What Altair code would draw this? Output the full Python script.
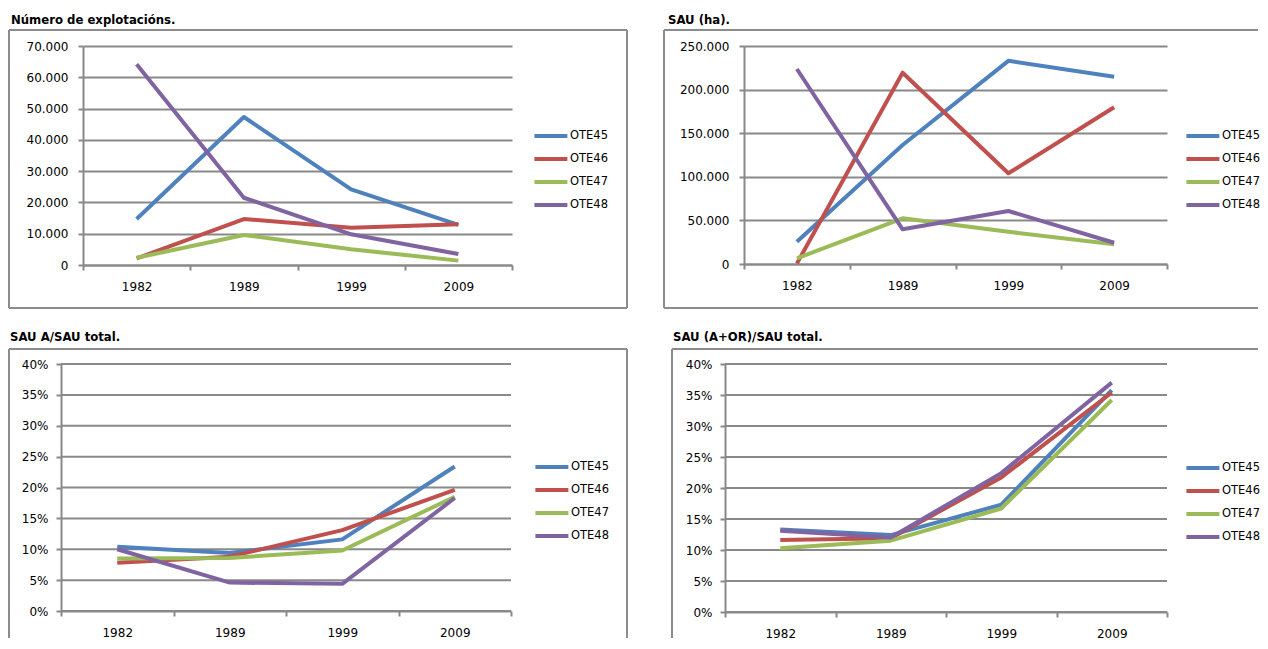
import altair as alt
import pandas as pd

years = ["1982", "1989", "1999", "2009"]
series = ["OTE45", "OTE46", "OTE47", "OTE48"]
colors = ["#4F81BD", "#C0504D", "#9BBB59", "#8064A2"]

# Panel 1: Número de explotacións.
p1_title = "Número de explotacións."
p1_ote45 = [14700, 47300, 24200, 12800]
p1_ote46 = [2100, 14700, 11900, 13000]
p1_ote47 = [2300, 9600, 5000, 1400]
p1_ote48 = [64200, 21500, 9800, 3500]
p1_ticks = [0, 10000, 20000, 30000, 40000, 50000, 60000, 70000]

# Panel 2: SAU (ha).
p2_title = "SAU (ha)."
p2_ote45 = [25600, 136500, 233000, 214800]
p2_ote46 = [500, 219400, 104000, 179700]
p2_ote47 = [6500, 52400, 37000, 22600]
p2_ote48 = [223600, 39800, 60800, 24400]
p2_ticks = [0, 50000, 100000, 150000, 200000, 250000]

# Panel 3: SAU A/SAU total.
p3_title = "SAU A/SAU total."
p3_ote45 = [0.104, 0.094, 0.116, 0.234]
p3_ote46 = [0.078, 0.088, 0.131, 0.196]
p3_ote47 = [0.085, 0.086, 0.098, 0.185]
p3_ote48 = [0.100, 0.046, 0.044, 0.183]

# Panel 4: SAU (A+OR)/SAU total.
p4_title = "SAU (A+OR)/SAU total."
p4_ote45 = [0.133, 0.124, 0.173, 0.358]
p4_ote46 = [0.116, 0.119, 0.217, 0.354]
p4_ote47 = [0.103, 0.115, 0.167, 0.342]
p4_ote48 = [0.131, 0.120, 0.224, 0.370]

pct_ticks = [0, 0.05, 0.10, 0.15, 0.20, 0.25, 0.30, 0.35, 0.40]

GRID = "#898989"
FRAME = "#8c8c8c"
FONT = "DejaVu Sans"


def long_df(vals):
    rows = []
    for s, arr in zip(series, vals):
        for y, v in zip(years, arr):
            rows.append({"year": y, "serie": s, "value": v})
    return pd.DataFrame(rows)


def panel(title, vals, ticks, pct, w, h, frame, title_xy, legend_xy, ylab_pad,
          ext_x=None, shift=0):
    df = long_df(vals)
    manual_grid = shift != 0
    common = dict(values=ticks, title=None, labelPadding=ylab_pad, grid=not manual_grid)
    if shift != 0:
        common["offset"] = -shift
    if pct:
        yaxis = alt.Axis(format=".0%", **common)
    else:
        yaxis = alt.Axis(labelExpr="replace(format(datum.value, ','), ',', '.')", **common)
    xscale = dict(type="band", paddingInner=0, paddingOuter=0)
    if shift != 0:
        xscale["range"] = [shift, shift + w]
    ysc = alt.Scale(domain=[ticks[0], ticks[-1]], nice=False, zero=True)
    lines = alt.Chart(df).mark_line(strokeWidth=4, strokeJoin="round").encode(
        x=alt.X("year:N", bandPosition=0.5, scale=alt.Scale(**xscale),
                axis=alt.Axis(title=None, labelAngle=0, tickBand="extent",
                              labelPadding=11, grid=False)),
        y=alt.Y("value:Q", scale=ysc, axis=yaxis),
        color=alt.Color("serie:N", scale=alt.Scale(domain=series, range=colors),
                        legend=alt.Legend(title=None, orient="none",
                                          legendX=legend_xy[0], legendY=legend_xy[1],
                                          symbolType="M-1,0H4", symbolSize=174,
                                          symbolStrokeWidth=4, labelFontSize=11.5,
                                          labelFont=FONT, labelColor="black",
                                          labelOffset=20, rowPadding=6, padding=0)),
    ).properties(width=w + shift, height=h)

    one = pd.DataFrame({"t": [title]})
    ttl = alt.Chart(one).mark_text(align="left", baseline="alphabetic", font=FONT,
                                   fontWeight="bold", fontSize=11.7, color="black").encode(
        x=alt.value(title_xy[0]), y=alt.value(title_xy[1]), text="t:N")

    layers = []
    if manual_grid:
        gdf = pd.DataFrame({"value": ticks})
        layers.append(alt.Chart(gdf).mark_rule(color=GRID, strokeWidth=2).encode(
            y=alt.Y("value:Q", scale=ysc, axis=yaxis),
            x=alt.value(shift), x2=alt.value(shift + w)))
    layers += [lines, ttl]
    for seg in frame:
        x1, y1, x2, y2 = seg
        if y1 == y2:
            enc = dict(x=alt.value(x1), x2=alt.value(x2), y=alt.value(y1))
        else:
            enc = dict(x=alt.value(x1), y=alt.value(y1), y2=alt.value(y2))
        layers.append(alt.Chart(one).mark_rule(color=FRAME, strokeWidth=2).encode(**enc))
    if ext_x is not None:
        layers.append(alt.Chart(one).mark_rule(opacity=0, strokeWidth=1).encode(
            x=alt.value(ext_x), y=alt.value(0), y2=alt.value(10)))
    return alt.layer(*layers)


# P1/P3 share one origin (page x 83), P2/P4 share another (page x 744);
# P3 and P4 plots are drawn shifted left from those origins.
p1 = panel(p1_title, [p1_ote45, p1_ote46, p1_ote47, p1_ote48], p1_ticks, False, 429, 219,
           [(-74, -16, 544, -16), (-74, 262, 544, 262), (-74, -16, -74, 262), (544, -16, 544, 262)],
           (-72, -22), (449, 81), 10)
p2 = panel(p2_title, [p2_ote45, p2_ote46, p2_ote47, p2_ote48], p2_ticks, False, 423, 218,
           [(-80, -16, 514, -16), (-80, 262, 514, 262), (-80, -16, -80, 262)],
           (-76, -22), (440, 81), 10, ext_x=-115.5)
p3 = panel(p3_title, [p3_ote45, p3_ote46, p3_ote47, p3_ote48], pct_ticks, True, 450, 247,
           [(-74, -15, 544, -15), (-74, -15, -74, 274), (544, -15, 544, 274)],
           (-73, -23), (450, 94), 8, shift=-22)
p4 = panel(p4_title, [p4_ote45, p4_ote46, p4_ote47, p4_ote48], pct_ticks, True, 442, 248,
           [(-72, -15, 514, -15), (-72, -15, -72, 274)],
           (-71, -23), (440, 95), 8, ext_x=-115.5, shift=-19)

chart = alt.concat(p1, p2, p3, p4, columns=2,
                   spacing={"row": 23, "column": 0}).resolve_scale(color="independent").properties(
    padding={"left": 0, "top": 7, "right": 0, "bottom": 0}
).configure_view(stroke=None).configure_axis(
    labelFont=FONT, labelFontSize=12, labelColor="black",
    domainColor=GRID, domainWidth=2, tickColor=GRID, tickWidth=2, tickSize=5,
    gridColor=GRID, gridWidth=2,
)

chart.save("out.html", embed_options={"renderer": "svg", "actions": False})
